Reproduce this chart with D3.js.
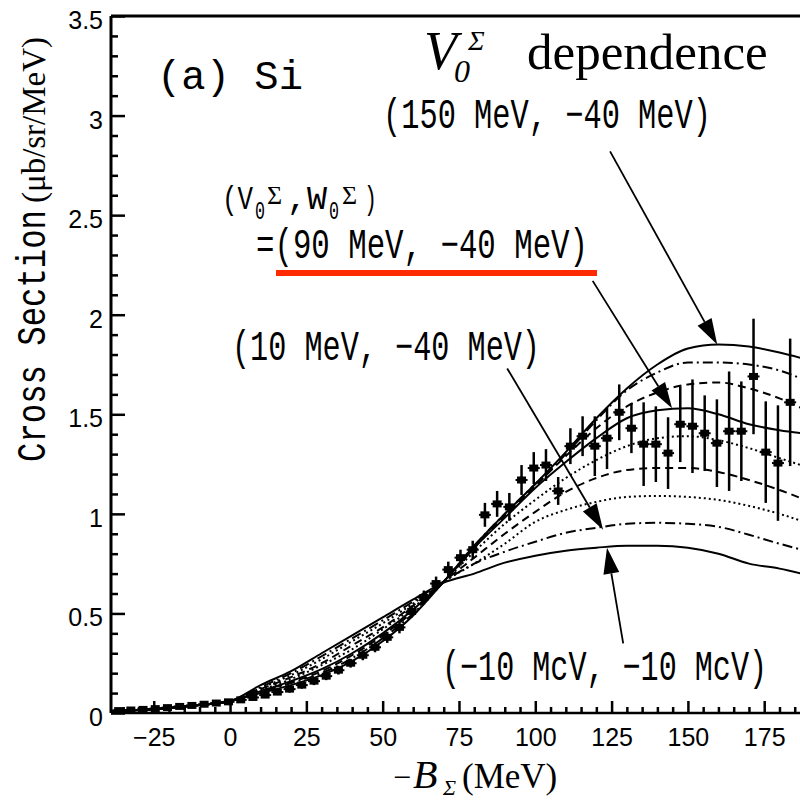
<!DOCTYPE html>
<html>
<head>
<meta charset="utf-8">
<script src="https://cdn.jsdelivr.net/npm/d3@7"></script>
<style>
body{margin:0;background:#fff}
svg{display:block}
</style>
</head>
<body>
<div id="chart"></div>
<script>
// theory curves, V0 from 150 down to -10 MeV (W0 = -40 MeV, last one -10 MeV)
var xGrid = [-40,-30,-20,-10,0,10,20,30,40,50,60,70,80,90,100,110,120,130,140,150,160,170,180,190];
var v150 = [0.01,0.015,0.025,0.04,0.06,0.10,0.14,0.19,0.26,0.36,0.49,0.66,0.84,1.00,1.15,1.31,1.48,1.63,1.75,1.83,1.85,1.84,1.81,1.77];
var v130 = [0.01,0.015,0.025,0.04,0.06,0.105,0.15,0.20,0.275,0.375,0.50,0.66,0.84,1.00,1.15,1.30,1.47,1.62,1.71,1.76,1.76,1.75,1.72,1.66];
var v110 = [0.01,0.015,0.025,0.04,0.06,0.11,0.155,0.21,0.29,0.39,0.51,0.66,0.83,0.99,1.14,1.29,1.43,1.54,1.61,1.65,1.66,1.63,1.58,1.51];
var v90 = [0.01,0.015,0.025,0.04,0.06,0.11,0.16,0.22,0.30,0.40,0.52,0.66,0.83,0.98,1.13,1.26,1.38,1.48,1.52,1.53,1.50,1.45,1.42,1.40];
var v70 = [0.01,0.015,0.025,0.04,0.06,0.115,0.17,0.24,0.32,0.42,0.53,0.66,0.81,0.95,1.07,1.18,1.27,1.34,1.38,1.39,1.37,1.33,1.28,1.23];
var v50 = [0.01,0.015,0.025,0.04,0.06,0.12,0.18,0.25,0.34,0.43,0.54,0.66,0.78,0.90,1.01,1.11,1.18,1.22,1.23,1.23,1.21,1.17,1.12,1.06];
var v30 = [0.01,0.015,0.025,0.04,0.06,0.125,0.19,0.27,0.36,0.45,0.55,0.66,0.75,0.85,0.96,1.02,1.06,1.085,1.09,1.085,1.07,1.04,1.00,0.95];
var v10 = [0.01,0.015,0.025,0.04,0.06,0.13,0.20,0.285,0.375,0.465,0.56,0.66,0.75,0.81,0.86,0.905,0.93,0.95,0.955,0.95,0.935,0.895,0.85,0.81];
var vm10 = [0.01,0.015,0.025,0.04,0.06,0.14,0.21,0.30,0.39,0.48,0.57,0.655,0.70,0.755,0.79,0.815,0.83,0.84,0.84,0.83,0.80,0.75,0.725,0.69];

// measured spectrum
var dataX = [-36.5,-32.5,-28.5,-24.5,-20.5,-16.5,-12.5,-8.5,-4.5,-0.5,3.5,7.5,11.5,15.5,19.5,23.5,27.5,31.5,35.5,39.5,43.5,47.5,51.5,55.5,59.5,63.5,67.5,71.5,75.5,79.5,
  83.5,87.5,91.5,95.5,99.5,103.5,107.5,111.5,115.5,119.5,123.5,127.5,131.5,135.5,139.5,143.5,147.5,151.5,155.5,159.5,163.5,167.5,171.5,175.5,179.5,183.5];
var dataY = [0.012,0.015,0.018,0.022,0.027,0.033,0.038,0.044,0.05,0.056,0.066,0.078,0.09,0.105,0.12,0.14,0.16,0.185,0.215,0.25,0.29,0.33,0.38,0.43,0.51,0.58,0.65,0.72,0.78,0.82,
  0.995,1.05,1.035,1.17,1.23,1.245,1.115,1.34,1.39,1.34,1.38,1.51,1.43,1.35,1.35,1.305,1.45,1.44,1.405,1.355,1.415,1.415,1.69,1.31,1.255,1.56];
var dataErr = [0.01,0.01,0.01,0.01,0.01,0.01,0.01,0.012,0.012,0.012,0.012,0.015,0.015,0.015,0.018,0.018,0.02,0.02,0.022,0.022,0.025,0.025,0.028,0.03,0.03,0.035,0.035,0.04,0.04,0.045,
  0.06,0.065,0.07,0.075,0.08,0.08,0.07,0.09,0.10,0.15,0.155,0.14,0.125,0.21,0.19,0.18,0.19,0.235,0.19,0.22,0.30,0.25,0.29,0.255,0.29,0.32];

var xTicks = [-25,0,25,50,75,100,125,150,175];
var yTicks = [0,0.5,1,1.5,2,2.5,3,3.5];

var width = 800, height = 800;
var padL = 111, padT = 16, padB = 713, padR = 810;
var x = d3.scaleLinear().domain([-39, 190]).range([padL, padR]);
var y = d3.scaleLinear().domain([0, 3.5]).range([padB, padT]);

var svg = d3.select("#chart").append("svg").attr("width", width).attr("height", height);

svg.append("clipPath").attr("id", "plotclip").append("rect")
    .attr("x", padL).attr("y", padT).attr("width", padR - padL).attr("height", padB - padT);

var plot = svg.append("g").attr("clip-path", "url(#plotclip)");

var curves = [
    {v: v150, dash: null},
    {v: v130, dash: "10,4,2,4"},
    {v: v110, dash: "8,5"},
    {v: v90, dash: null},
    {v: v70, dash: "2,3"},
    {v: v50, dash: "8,5"},
    {v: v30, dash: "2,3"},
    {v: v10, dash: "10,4,2,4"},
    {v: vm10, dash: null}
];
var line = d3.line().x(function(d){ return x(d[0]) }).y(function(d){ return y(d[1]) }).curve(d3.curveMonotoneX);
for (var c of curves){
    plot.append("path")
        .datum(xGrid.map(function(xv, i){ return [xv, c.v[i]] }))
        .attr("d", line)
        .attr("fill", "none")
        .attr("stroke", "#000")
        .attr("stroke-width", 2)
        .attr("stroke-dasharray", c.dash);
}

// data points with error bars
var pts = dataX.map(function(xv, i){ return {x: xv, y: dataY[i], e: dataErr[i]} });
plot.selectAll(".ebar").data(pts).enter().append("line")
    .attr("x1", function(d){ return x(d.x) }).attr("x2", function(d){ return x(d.x) })
    .attr("y1", function(d){ return y(d.y - d.e) }).attr("y2", function(d){ return y(d.y + d.e) })
    .attr("stroke", "#000").attr("stroke-width", 2.5);
plot.selectAll(".mark").data(pts).enter().append("rect")
    .attr("x", function(d){ return x(d.x) - 4.5 }).attr("y", function(d){ return y(d.y) - 3.5 })
    .attr("width", 9).attr("height", 7).attr("fill", "#000");
plot.selectAll(".hbar").data(pts).enter().append("line")
    .attr("x1", function(d){ return x(d.x) - 6 }).attr("x2", function(d){ return x(d.x) + 6 })
    .attr("y1", function(d){ return y(d.y) }).attr("y2", function(d){ return y(d.y) })
    .attr("stroke", "#000").attr("stroke-width", 2);

// axes
var tickFont = "'Liberation Sans', Arial, sans-serif";
var xAxis = svg.append("g").attr("transform", "translate(0," + padB + ")")
    .call(d3.axisBottom(x).tickValues(xTicks).tickSizeInner(-12).tickSizeOuter(0).tickPadding(15));
var xMinor = svg.append("g").attr("transform", "translate(0," + padB + ")")
    .call(d3.axisBottom(x).tickValues(d3.range(-35, 190, 5).filter(function(v){ return v % 25 !== 0 })).tickSize(-6).tickFormat(""));
var yAxis = svg.append("g").attr("transform", "translate(" + padL + ",0)")
    .call(d3.axisLeft(y).tickValues(yTicks).tickFormat(d3.format("~g")).tickSizeInner(-14).tickSizeOuter(0).tickPadding(8));
var yMinor = svg.append("g").attr("transform", "translate(" + padL + ",0)")
    .call(d3.axisLeft(y).tickValues(d3.range(0.1, 3.5, 0.1).filter(function(v){ return Math.abs(v*2 - Math.round(v*2)) > 0.01 })).tickSize(-7).tickFormat(""));
svg.selectAll(".domain").remove();
svg.selectAll(".tick line").attr("stroke", "#000").attr("stroke-width", 2.5);
xAxis.selectAll("text").attr("font-family", tickFont).attr("font-size", 25).attr("fill", "#000");
yAxis.selectAll("text").attr("font-family", tickFont).attr("font-size", 25).attr("fill", "#000").attr("dy", "0.5em");

// frame
svg.append("line").attr("x1", padL).attr("x2", padL).attr("y1", padT).attr("y2", padB).attr("stroke", "#000").attr("stroke-width", 3);
svg.append("line").attr("x1", padL).attr("x2", padR).attr("y1", padT).attr("y2", padT).attr("stroke", "#000").attr("stroke-width", 3);
svg.append("line").attr("x1", padL).attr("x2", padR).attr("y1", padB).attr("y2", padB).attr("stroke", "#000").attr("stroke-width", 2.5);

// arrows
var arrowFrom = [[124.5,2.82],[118.8,2.17],[90.8,1.73],[128.8,0.35]];
var arrowTo = [[159.6,1.85],[144.8,1.53],[122.2,0.92],[123.5,0.83]];
arrowFrom.forEach(function(f, i){
    var t = arrowTo[i];
    var x1 = x(f[0]), y1 = y(f[1]), x2 = x(t[0]), y2 = y(t[1]);
    var dx = x2 - x1, dy = y2 - y1, len = Math.hypot(dx, dy);
    var ux = dx/len, uy = dy/len, hl = 26, hw = 8;
    var bx = x2 - ux*hl, by = y2 - uy*hl;
    svg.append("line").attr("x1", x1).attr("y1", y1).attr("x2", bx).attr("y2", by)
        .attr("stroke", "#000").attr("stroke-width", 1.8);
    svg.append("polygon")
        .attr("points", [[x2, y2], [bx - uy*hw, by + ux*hw], [bx + uy*hw, by - ux*hw]].map(function(p){ return p.join(",") }).join(" "))
        .attr("fill", "#000");
});

// labels
var mono = "'Liberation Mono', 'Courier New', monospace";
var serif = "'Liberation Serif', 'Times New Roman', serif";
function monoText(str, x0, y0, len, fs){
    return svg.append("text").attr("x", x0).attr("y", y0)
        .attr("font-family", mono).attr("font-size", fs)
        .attr("textLength", len).attr("lengthAdjust", "spacingAndGlyphs")
        .text(str);
}
monoText("(a)  Si", 157, 89, 146, 40);
monoText("(150 MeV, \u221240 MeV)", 383, 128, 328, 42);
monoText("=(90 MeV, \u221240 MeV)", 256, 258, 332, 42);
monoText("(10 MeV, \u221240 MeV)", 232, 360, 308, 42);
monoText("(\u221210 McV, \u221210 McV)", 442, 680, 325, 42);

monoText("(V", 222, 209, 31, 34);
monoText(",W", 287, 209, 40, 34);
monoText(")", 364, 209, 13, 34);
svg.append("text").attr("x", 255).attr("y", 219).attr("font-family", mono).attr("font-size", 26).attr("textLength", 10).attr("lengthAdjust", "spacingAndGlyphs").text("0");
svg.append("text").attr("x", 329).attr("y", 219).attr("font-family", mono).attr("font-size", 26).attr("textLength", 10).attr("lengthAdjust", "spacingAndGlyphs").text("0");
svg.append("text").attr("x", 267).attr("y", 204).attr("font-family", serif).attr("font-size", 26).text("\u03a3");
svg.append("text").attr("x", 342).attr("y", 204).attr("font-family", serif).attr("font-size", 26).text("\u03a3");

svg.append("rect").attr("x", 276).attr("y", 270).attr("width", 321).attr("height", 6).attr("fill", "#ff2a00");

// V0 sigma dependence
svg.append("text").attr("x", 424).attr("y", 69).attr("font-family", serif).attr("font-size", 54).attr("font-style", "italic").text("V");
svg.append("text").attr("x", 454).attr("y", 82).attr("font-family", serif).attr("font-size", 32).attr("font-style", "italic").text("0");
svg.append("text").attr("x", 468).attr("y", 50).attr("font-family", serif).attr("font-size", 28).attr("font-style", "italic").text("\u03a3");
svg.append("text").attr("x", 527).attr("y", 69).attr("font-family", serif).attr("font-size", 51).text("dependence");

// axis titles
svg.append("text").attr("transform", "translate(45,462) rotate(-90)")
    .attr("font-family", mono).attr("font-size", 40)
    .attr("textLength", 252).attr("lengthAdjust", "spacingAndGlyphs").text("Cross Section");
svg.append("text").attr("transform", "translate(45,203) rotate(-90)")
    .attr("font-family", serif).attr("font-size", 34)
    .attr("textLength", 166).attr("lengthAdjust", "spacingAndGlyphs").text("(\u03bcb/sr/MeV)");

svg.append("text").attr("x", 393).attr("y", 788).attr("font-family", serif).attr("font-size", 32).text("\u2212");
svg.append("text").attr("x", 413).attr("y", 788).attr("font-family", serif).attr("font-size", 40).attr("font-style", "italic").text("B");
svg.append("text").attr("x", 443).attr("y", 795).attr("font-family", serif).attr("font-size", 22).attr("font-style", "italic").text("\u03a3");
svg.append("text").attr("x", 462).attr("y", 788).attr("font-family", serif).attr("font-size", 35).text("(MeV)");
</script>
</body>
</html>
